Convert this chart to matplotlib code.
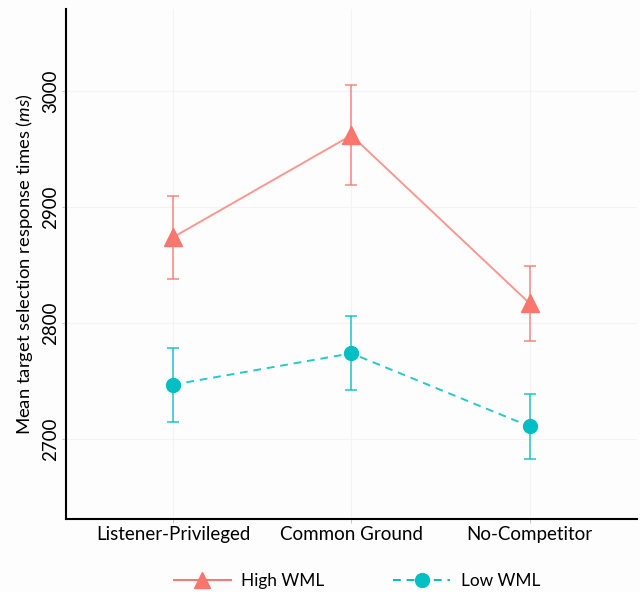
import numpy as np
import matplotlib.pyplot as plt
from matplotlib.lines import Line2D

plt.rcParams['font.family'] = ['Lato', 'DejaVu Sans']
plt.rcParams['mathtext.fontset'] = 'custom'
plt.rcParams['mathtext.it'] = 'Lato:italic'
plt.rcParams['mathtext.rm'] = 'Lato'

conditions = ["Listener-Privileged", "Common Ground", "No-Competitor"]
high_mean = [2874, 2962, 2817]
high_err = [36, 43, 32]
low_mean = [2747, 2774, 2711]
low_err = [32, 32, 28]

red = '#F8766D'
teal = '#00BFC4'

fig = plt.figure(figsize=(6.4, 5.92), dpi=100)
fig.patch.set_facecolor('#fdfdfd')
ax = fig.add_axes([0.103, 0.123, 0.892, 0.862])
ax.set_facecolor('#fdfdfd')

x = np.arange(len(conditions))

# error bars first, then lines and points on top
ax.errorbar(x, high_mean, yerr=high_err, fmt='none', ecolor=red, alpha=0.75,
            elinewidth=1.3, capsize=4, capthick=1.3, zorder=2)
ax.errorbar(x, low_mean, yerr=low_err, fmt='none', ecolor=teal, alpha=0.75,
            elinewidth=1.3, capsize=4, capthick=1.3, zorder=2)
ax.plot(x, high_mean, color=red, alpha=0.75, lw=1.4, zorder=3)
ax.plot(x, low_mean, color=teal, alpha=0.85, lw=1.4, ls=(0, (4, 3)), zorder=3)
ax.plot(x, high_mean, ls='none', marker='^', ms=13, color=red, zorder=4)
ax.plot(x, low_mean, ls='none', marker='o', ms=10, color=teal, zorder=4)

ax.set_xlim(-0.6, 2.6)
ax.set_ylim(2631, 3071)
ax.set_xticks(x)
ax.set_xticklabels(conditions, fontsize=13.5)
ax.set_yticks([2700, 2800, 2900, 3000])
ax.set_yticklabels(['2700', '2800', '2900', '3000'], rotation=90, va='center', fontsize=13.5)
ax.set_ylabel(r"Mean target selection response times ($\mathit{ms}$)", fontsize=13.3, labelpad=5)

ax.grid(True, color='#f3f3f3', lw=0.8, zorder=0)
ax.set_axisbelow(True)
for s in ['top', 'right']:
    ax.spines[s].set_visible(False)
for s in ['left', 'bottom']:
    ax.spines[s].set_linewidth(1.5)
    ax.spines[s].set_color('black')
ax.tick_params(axis='both', length=3, width=0.6, color='#bbbbbb', pad=2)

handles = [
    Line2D([], [], color=red, lw=1.4, marker='^', ms=12, markerfacecolor=red,
           markeredgecolor=red),
    Line2D([], [], color=teal, lw=1.4, ls=(0, (4, 3)), marker='o', ms=10,
           markerfacecolor=teal, markeredgecolor=teal),
]
fig.legend(handles, ['High WML', 'Low WML'], loc='center',
           bbox_to_anchor=(357 / 640, 1 - 581 / 592), ncol=2, frameon=False,
           fontsize=12.4, handlelength=3.3, columnspacing=4.0, handletextpad=0.6)

fig.savefig('out.png', dpi=100, facecolor=fig.get_facecolor())
